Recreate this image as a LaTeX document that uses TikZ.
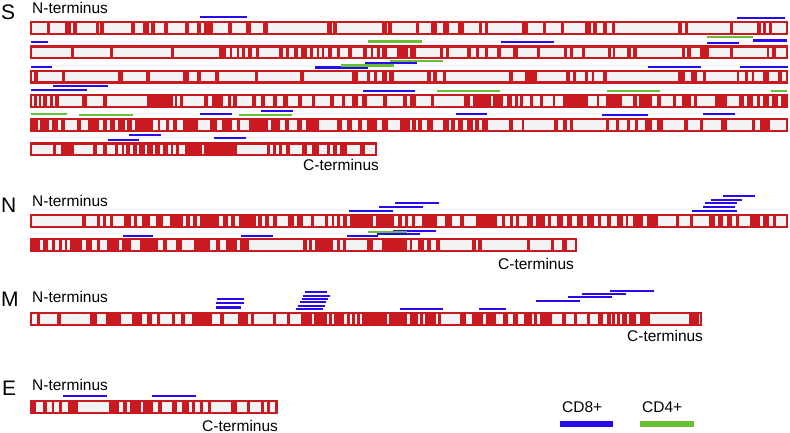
\documentclass[tikz,border=0pt]{standalone}
\usepackage{fontspec}
\setmainfont{Liberation Sans}
\definecolor{barred}{RGB}{200,26,32}
\definecolor{gapgray}{RGB}{243,243,243}
\definecolor{cdblue}{RGB}{40,10,240}
\definecolor{cdgreen}{RGB}{104,190,52}
\tikzset{ % looks of the sequence bars and the epitope lines
	bar/.style={fill=barred},
	gap/.style={fill=gapgray},
	cdeight/.style={draw=cdblue, line width=2.3pt},
	cdfour/.style={draw=cdgreen, line width=2.3pt},
	term/.style={font=\fontsize{15.5}{18}\selectfont, anchor=base west, inner sep=0pt},
	protein/.style={font=\fontsize{21}{24}\selectfont, anchor=base west, inner sep=0pt}}
% #1 top of the bar, #2 right end, #3 light gaps as from/to
\newcommand{\seqbar}[3]{%
	\fill[bar] (30,#1) rectangle (#2,#1+14);
	\foreach \a/\b in {#3} \fill[gap] (\a,#1+2.3) rectangle (\b,#1+11.7);
}

\begin{document}
\begin{tikzpicture}[x=1pt,y=-1pt]
	\useasboundingbox (0,0) rectangle (790,433);

	% S protein
	\node[protein] (S) at (1,20) {S};
	\node[term] (SN) at (32,13.5) {N-terminus};
	\seqbar{21}{788}{32/47, 50/65, 71/73, 77/96, 99/100, 104/131, 135/143, 149/151, 155/164, 168/185, 189/197, 201/204, 213/228, 232/246, 251/263, 268/327, 332/333, 337/382, 387/388, 392/416, 419/431, 437/443, 449/458, 464/479, 482/485, 488/522, 528/543, 546/561, 564/585, 591/593, 597/603, 607/612, 615/678, 682/685, 688/730, 733/757, 761/763, 766/769, 772/786}
	\seqbar{45.3}{788}{32/71, 74/110, 113/171, 174/219, 226/230, 232/237, 239/242, 245/248, 252/256, 259/279, 283/286, 289/294, 298/301, 307/310, 313/317, 319/322, 324/328, 332/337, 340/348, 352/363, 367/371, 373/377, 380/382, 387/397, 408/410, 416/440, 443/446, 449/467, 471/476, 479/485, 488/497, 501/513, 518/537, 540/564, 567/570, 573/582, 585/608, 611/613, 615/627, 631/633, 637/682, 685/687, 691/700, 709/730, 733/767, 769/772, 776/786}
	\seqbar{69.6}{788}{32/34, 38/62, 65/118, 123/146, 150/183, 189/197, 201/215, 219/255, 258/300, 304/352, 358/367, 370/374, 377/382, 387/389, 394/427, 431/433, 437/443, 446/509, 513/525, 537/566, 570/573, 576/585, 588/592, 594/603, 607/678, 685/691, 697/703, 706/737, 739/745, 748/752, 754/763, 769/778, 782/786}
	\seqbar{93.9}{788}{32/34, 37/39, 41/43, 47/50, 53/55, 59/82, 87/103, 107/147, 173/175, 177/180, 183/204, 208/212, 223/228, 231/233, 237/252, 256/261, 265/273, 277/283, 288/298, 302/312, 315/330, 334/342, 345/352, 358/362, 367/383, 387/403, 407/410, 416/431, 434/464, 470/473, 491/493, 503/507, 512/515, 518/520, 523/530, 533/540, 543/553, 555/563, 588/597, 599/606, 622/633, 637/639, 652/657, 661/673, 676/682, 691/694, 697/715, 727/739, 744/747, 753/757, 760/763, 769/772, 778/781}
	\seqbar{118.2}{788}{38/40, 49/52, 58/61, 65/77, 81/88, 99/103, 107/110, 115/118, 125/127, 132/135, 153/158, 160/166, 169/173, 177/183, 198/210, 217/222, 232/237, 240/249, 268/271, 280/285, 289/297, 302/306, 319/337, 342/347, 352/358, 362/367, 377/382, 388/400, 410/412, 416/418, 422/427, 433/443, 449/451, 455/458, 463/467, 473/475, 479/482, 488/509, 513/522, 524/554, 558/563, 567/570, 573/606, 609/616, 619/627, 630/635, 638/645, 652/657, 663/684, 688/700, 703/721, 727/752, 755/760, 770/786}
	\seqbar{142.5}{377}{32/53, 56/61, 74/93, 97/103, 107/115, 118/122, 124/126, 130/133, 137/139, 145/147, 153/155, 160/163, 168/171, 173/176, 179/185, 202/204, 237/267, 270/273, 276/279, 282/286, 290/302, 307/312, 319/327, 330/333, 337/340, 347/360, 365/375}
	\node[term] (SC) at (303,171) {C-terminus};
	\foreach \a/\b/\y in {200/247/17, 737/785/18, 31/48/42, 753/787/40.5, 501/554/42, 707/739/43, 365/417/63, 315/368/67.5, 31/52/67, 648/701/67, 740/788/67, 53/108/86, 31/87/90, 363/415/91, 261/293/111, 200/232/114, 456/487/114, 602/648/115, 703/735/114, 129/161/135, 214/246/138, 108/139/140}
		\draw[cdeight] (\a,\y) -- (\b,\y);
	\foreach \a/\b/\y in {368/422/41.5, 707/753/37, 390/443/61, 341/394/65.5, 437/500/91, 607/660/91, 771/787/91, 31/67/114, 79/133/115, 239/292/115}
		\draw[cdfour] (\a,\y) -- (\b,\y);

	% N protein
	\node[protein] (N) at (1,212.5) {N};
	\node[term] (NN) at (32,206.5) {N-terminus};
	\seqbar{214}{788}{32/82, 86/97, 100/103, 106/110, 113/124, 131/134, 137/142, 150/156, 163/170, 183/186, 190/193, 197/200, 219/223, 228/231, 235/239, 256/258, 262/265, 269/273, 277/288, 294/297, 303/311, 314/325, 328/332, 334/337, 340/343, 347/350, 373/376, 394/398, 402/405, 408/412, 415/422, 437/445, 452/460, 464/476, 497/502, 505/510, 513/516, 519/527, 533/536, 545/548, 551/557, 563/567, 572/577, 583/587, 594/598, 601/607, 611/617, 623/626, 628/633, 643/647, 658/676, 679/690, 693/709, 715/718, 723/727, 732/736, 739/750, 760/763, 769/773, 776/786}
	\seqbar{238}{577}{40/43, 48/52, 55/59, 62/65, 67/70, 82/86, 92/97, 100/107, 119/122, 131/140, 158/163, 167/176, 182/194, 210/216, 220/226, 237/240, 249/303, 307/309, 312/315, 333/337, 340/343, 346/367, 373/382, 407/410, 412/418, 424/427, 431/436, 440/472, 476/478, 482/527, 530/551, 554/562, 567/575}
	\node[term] (NC) at (498,269) {C-terminus};
	\foreach \a/\b/\y in {395/439/202.7, 379/423/206.7, 349/393/210.7, 723/755/196, 711/742/199.7, 705/737/203.3, 703/735/207, 692/737/210.7, 393/436/230.7, 377/420/234, 123/153/235.7, 241/273/235.7, 347/378/235.7}
		\draw[cdeight] (\a,\y) -- (\b,\y);
	\draw[cdfour] (368,232.3) -- (407,232.3);

	% M protein
	\node[protein] (M) at (1,306.5) {M};
	\node[term] (MN) at (32,302) {N-terminus};
	\seqbar{312}{702}{32/37, 40/57, 61/90, 97/106, 121/132, 142/147, 152/157, 160/172, 175/181, 185/192, 212/220, 224/238, 248/251, 254/273, 276/287, 290/301, 312/314, 327/329, 332/334, 344/347, 350/352, 355/357, 360/362, 387/389, 407/410, 418/420, 423/425, 436/438, 441/460, 466/472, 483/486, 496/503, 508/513, 518/524, 532/534, 537/540, 552/562, 566/574, 577/587, 590/598, 603/607, 611/612, 615/617, 620/622, 627/629, 636/640, 650/689, 699/700}
	\node[term] (MC) at (627,341) {C-terminus};
	\foreach \a/\b/\y in {217/244/299.3, 216/244/303.3, 216/241/307.5, 305/327/292.3, 303/330/295.7, 302/328/299, 300/326/302.3, 298/325/305.7, 296/323/308.7, 400/443/308.7, 479/506/309, 536/580/301, 568/612/297.3, 582/626/294, 610/654/290.7}
		\draw[cdeight] (\a,\y) -- (\b,\y);

	% E protein
	\node[protein] (E) at (2,395) {E};
	\node[term] (EN) at (32,390) {N-terminus};
	\seqbar{400}{278}{36/43, 47/52, 54/59, 62/68, 78/109, 119/123, 127/130, 141/143, 153/158, 162/172, 177/182, 189/192, 195/200, 203/208, 211/231, 237/247, 250/261, 264/267, 270/275}
	\node[term] (EC) at (202,431) {C-terminus};
	\foreach \a/\b/\y in {63/107/396, 152/196/396}
		\draw[cdeight] (\a,\y) -- (\b,\y);

	% legend
	\node[term] (L8) at (562,412) {CD8+};
	\node[term] (L4) at (642,412) {CD4+};
	\fill[cdblue] (560,421) rectangle (613,427);
	\fill[cdgreen] (640,421) rectangle (694,427);
\end{tikzpicture}
\end{document}
